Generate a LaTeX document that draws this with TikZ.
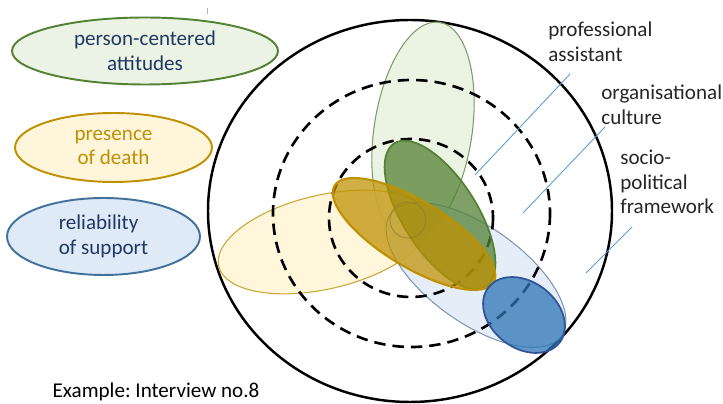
\documentclass[tikz,border=0pt]{standalone}
\usepackage{fontspec}
\setmainfont{Carlito}
\usetikzlibrary{shapes.geometric}
\definecolor{navytext}{RGB}{32,56,100}
\definecolor{goldtext}{RGB}{191,144,0}
\definecolor{darkgrn}{RGB}{84,130,53}
\definecolor{lightgrn}{RGB}{235,243,228}
\definecolor{darkgold}{RGB}{191,144,0}
\definecolor{lightgold}{RGB}{255,245,218}
\definecolor{darkblu}{RGB}{65,113,156}
\definecolor{lightblu}{RGB}{222,234,246}
\definecolor{pointblue}{RGB}{91,155,213}
\definecolor{labelgray}{RGB}{38,38,38}

\begin{document}
\begin{tikzpicture}[x=0.02cm, y=-0.02cm, font=\fontsize{12}{14}\selectfont\frenchspacing,
  legend/.style={ellipse, draw, line width=1.1pt, inner sep=0pt},
  ring/.style={line width=1.5pt, dash pattern=on 6.5pt off 4pt},
  pointer/.style={draw=pointblue, line width=0.5pt},
  layer/.style={anchor=west, align=left, inner sep=0pt, text=labelgray}]
\useasboundingbox (0,0) rectangle (723,404);

% legend
\node[legend, draw=darkgrn, fill=lightgrn, text=navytext, align=center,
  minimum width=53.2mm, minimum height=13.4mm] (pca) at (145,51) {person-centered\\attitudes};
\node[legend, draw=darkgold, fill=lightgold, text=goldtext, align=center,
  minimum width=39.4mm, minimum height=13.8mm] (pod) at (113.5,147.5) {presence\\of death};
\node[legend, draw=darkblu, fill=lightblu, text=navytext, align=left,
  minimum width=38.6mm, minimum height=15.4mm] (ros) at (103.5,236.5) {reliability\\of support};
\draw[gray!60, line width=0.4pt] (207,8) -- (207,14);

% outer circle
\draw[line width=1.4pt] (410,211) ellipse [x radius=202, y radius=191];

% light ellipses
\draw[draw={rgb,255:red,125;green,155;blue,105}, line width=0.6pt, fill={rgb,255:red,226;green,239;blue,215}, fill opacity=0.7]
  [rotate around={-8.6:(423,131)}] (423,131) ellipse [x radius=49, y radius=110];
\draw[draw={rgb,255:red,205;green,165;blue,50}, line width=0.6pt, fill={rgb,255:red,255;green,242;blue,204}, fill opacity=0.7]
  [rotate around={13:(324,242)}] (324,242) ellipse [x radius=108, y radius=47];
\draw[draw={rgb,255:red,125;green,150;blue,180}, line width=0.6pt, fill=lightblu, fill opacity=0.8]
  [rotate around={-35.5:(476,275)}] (476,275) ellipse [x radius=105, y radius=48];

% dashed rings
\draw[ring] (411.5,213.5) ellipse [x radius=138.5, y radius=133.5];
\draw[ring] (411,218) ellipse [x radius=82, y radius=79];

% dark ellipses
\draw[draw=darkgrn, line width=1pt, fill=darkgrn, fill opacity=0.75]
  [rotate around={32.6:(440,215)}] (440,215) ellipse [x radius=37, y radius=85];
\draw[draw=darkgold, line width=1.2pt, fill=darkgold, fill opacity=0.72]
  [rotate around={-31.3:(414,234)}] (414,234) ellipse [x radius=93, y radius=33];
\draw[draw={rgb,255:red,47;green,85;blue,151}, line width=1pt, fill={rgb,255:red,46;green,117;blue,182}, fill opacity=0.75]
  [rotate around={-37.7:(524,315)}] (524,315) ellipse [x radius=45, y radius=33];
\draw[draw={rgb,255:red,140;green,120;blue,40}, line width=0.5pt, draw opacity=0.6] (408,220) circle [radius=18];

% layer labels
\node[layer] (pro) at (548,41.5) {professional\\assistant};
\node[layer] (org) at (601,104.5) {organisational\\culture};
\node[layer] (soc) at (620,182) {socio-\\political\\framework};
\coordinate (pro1) at (570,74);  \coordinate (pro2) at (475,175);
\coordinate (org1) at (605,127); \coordinate (org2) at (523,213);
\coordinate (soc1) at (632,227); \coordinate (soc2) at (586,273);
\draw[pointer] (pro1) -- (pro2);
\draw[pointer] (org1) -- (org2);
\draw[pointer] (soc1) -- (soc2);

\node[text=black] (ex) at (156,392) {Example: Interview no.8};
\end{tikzpicture}
\end{document}
